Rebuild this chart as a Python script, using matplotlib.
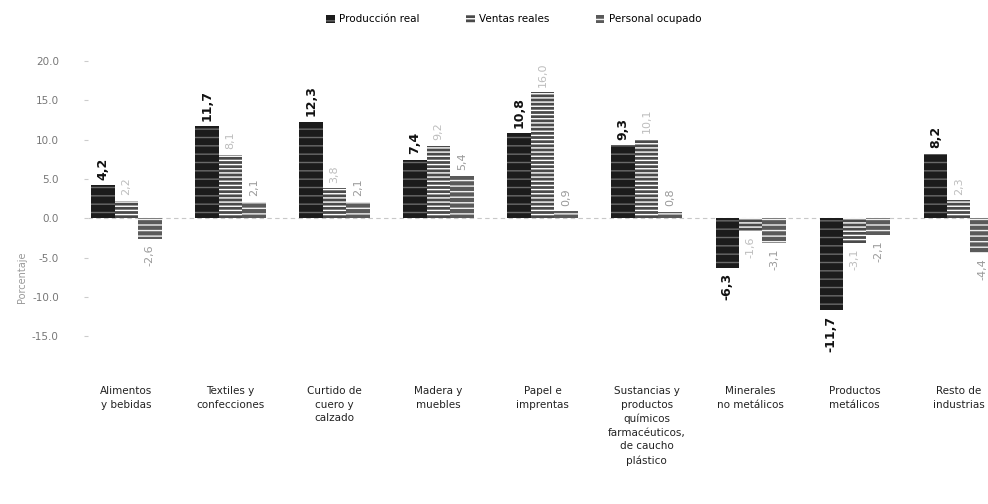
import numpy as np
import matplotlib.pyplot as plt

# datos (variacion porcentual)
categorias = ["Alimentos\ny bebidas", "Textiles y\nconfecciones", "Curtido de\ncuero y\ncalzado",
              "Madera y\nmuebles", "Papel e\nimprentas",
              "Sustancias y\nproductos\nquímicos\nfarmacéuticos,\nde caucho\nplástico",
              "Minerales\nno metálicos", "Productos\nmetálicos", "Resto de\nindustrias"]
produccion = [4.2, 11.7, 12.3, 7.4, 10.8, 9.3, -6.3, -11.7, 8.2]
ventas = [2.2, 8.1, 3.8, 9.2, 16.0, 10.1, -1.6, -3.1, 2.3]
personal = [-2.6, 2.1, 2.1, 5.4, 0.9, 0.8, -3.1, -2.1, -4.4]
yticks = [20, 15, 10, 5, 0, -5, -10, -15]

fig = plt.figure(figsize=(9.88, 5.04), dpi=100)
ax = fig.add_axes([0.089, 0.333, 0.934, 0.546])

x = np.arange(len(categorias))
w = 0.225

b1 = ax.bar(x - w, produccion, w, color='#1c1c1c', edgecolor='#6a6a6a', hatch='--', linewidth=0,
            label='Producción real')
b2 = ax.bar(x, ventas, w, color='#4a4a4a', edgecolor='white', hatch='----', linewidth=0,
            label='Ventas reales')
b3 = ax.bar(x + w, personal, w, color='#5a5a5a', edgecolor='#f0f0f0', hatch='---', linewidth=0,
            label='Personal ocupado')

ax.axhline(0, color='#c8c8c8', lw=0.8, ls=(0, (4, 3)), zorder=0)

def etiquetas(bars, vals, color, peso, tam):
    for b, v in zip(bars, vals):
        xc = b.get_x() + b.get_width() / 2
        txt = f"{v:.1f}".replace('.', ',')
        if v >= 0:
            ax.annotate(txt, (xc, v), xytext=(0, 4), textcoords='offset points',
                        rotation=90, ha='center', va='bottom', fontsize=tam,
                        color=color, fontweight=peso)
        else:
            ax.annotate(txt, (xc, v), xytext=(0, -4), textcoords='offset points',
                        rotation=90, ha='center', va='top', fontsize=tam,
                        color=color, fontweight=peso)

etiquetas(b1, produccion, '#111111', 'bold', 9)
etiquetas(b2, ventas, '#bdbdbd', 'normal', 8)
etiquetas(b3, personal, '#999999', 'normal', 8)

ax.set_xlim(-0.37, 8.5)
ax.set_ylim(-15, 20)
ax.set_yticks(yticks)
ax.set_yticklabels([f"{t:.1f}" for t in yticks], fontsize=7.5, color='#777777')
ax.tick_params(axis='y', length=3, color='#cccccc', pad=18)
ax.set_xticks(x)
ax.set_xticklabels(categorias, fontsize=7.5, color='#222222', linespacing=1.45, va='top')
ax.tick_params(axis='x', length=0, pad=36)

for s in ['top', 'right', 'bottom', 'left']:
    ax.spines[s].set_visible(False)

fig.text(0.022, 0.45, "Porcentaje", rotation=90, fontsize=7, color='#999999',
         ha='center', va='center')

fig.legend(loc='upper center', bbox_to_anchor=(0.52, 0.99), ncol=3, frameon=False,
           fontsize=7.5, handlelength=0.8, handleheight=0.8, columnspacing=4.5,
           handletextpad=0.4)

plt.savefig('out.png', dpi=100)
